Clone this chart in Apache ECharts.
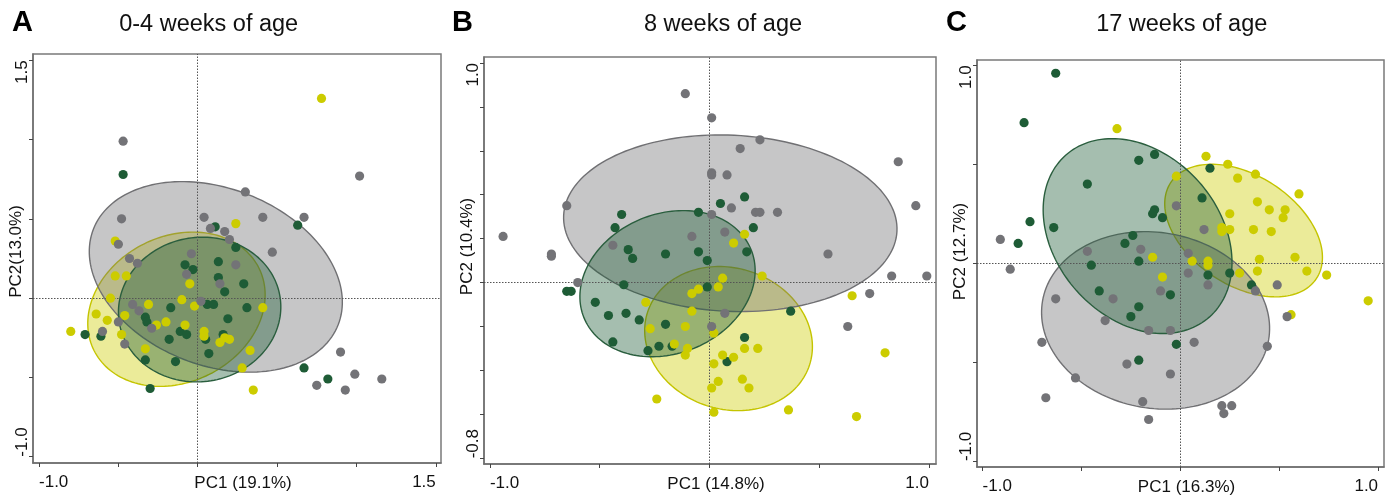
<!DOCTYPE html>
<html>
<head>
<meta charset="utf-8">
<script src="https://cdn.jsdelivr.net/npm/echarts@6/dist/echarts.min.js"></script>
<style>
html,body{margin:0;padding:0;background:#fff;}
#chart{width:1399px;height:501px;}
</style>
</head>
<body>
<div id="chart"></div>
<script>
// ---------- Panel A: 0-4 weeks ----------
const greenA = [[-0.47,0.78],[0.11,0.45],[0.63,0.46],[0.24,0.32],[0.13,0.23],[-0.08,0.21],[-0.03,0.18],[0.13,0.13],[0.29,0.09],[0.17,0.04],[0.06,-0.04],[0.10,-0.04],[-0.17,-0.06],[0.31,-0.06],[-0.33,-0.12],[-0.32,-0.15],[0.19,-0.13],[-0.71,-0.23],[-0.61,-0.24],[-0.11,-0.21],[-0.07,-0.23],[-0.18,-0.26],[0.05,-0.26],[0.16,-0.23],[0.07,-0.35],[-0.33,-0.39],[-0.14,-0.40],[0.67,-0.44],[0.82,-0.51],[-0.30,-0.57]];
const yellowA = [[0.78,1.26],[0.24,0.47],[-0.52,0.36],[-0.52,0.14],[-0.45,0.14],[-0.05,0.09],[-0.55,0.00],[-0.10,-0.01],[-0.31,-0.04],[-0.02,-0.05],[0.41,-0.06],[-0.64,-0.10],[-0.46,-0.11],[-0.57,-0.14],[-0.20,-0.15],[-0.26,-0.17],[-0.08,-0.17],[-0.80,-0.21],[-0.48,-0.23],[0.04,-0.21],[0.04,-0.24],[0.14,-0.28],[0.20,-0.26],[0.17,-0.25],[-0.33,-0.32],[0.33,-0.33],[0.28,-0.44],[0.35,-0.58]];
const grayA = [[-0.47,0.99],[1.02,0.77],[0.30,0.67],[-0.48,0.50],[0.04,0.51],[0.41,0.51],[0.67,0.51],[0.08,0.44],[0.17,0.42],[0.20,0.37],[-0.50,0.34],[0.47,0.29],[-0.04,0.28],[-0.43,0.25],[-0.38,0.22],[0.24,0.21],[-0.07,0.15],[0.14,0.09],[0.02,-0.02],[-0.41,-0.04],[-0.37,-0.08],[-0.50,-0.15],[-0.29,-0.19],[-0.60,-0.21],[-0.46,-0.29],[0.90,-0.34],[0.99,-0.48],[1.16,-0.51],[0.75,-0.55],[0.93,-0.58]];
// ellipse: [centerX, centerY, semiAxisA, semiAxisB, angleDeg]
const ellGrayA = [0.114, 0.134, 0.828, 0.558, -21.4];
const ellGreenA = [0.012, -0.072, 0.513, 0.455, 9];
const ellYellowA = [-0.134, -0.070, 0.581, 0.460, 26.6];
const ticksA = [-1.0, -0.5, 0, 0.5, 1.0, 1.5];
const labelsA = [-1.0, 1.5];

// ---------- Panel B: 8 weeks ----------
const grayB = [[-0.11,0.86],[0.01,0.75],[0.23,0.65],[0.14,0.61],[0.86,0.55],[0.01,0.50],[0.01,0.49],[0.08,0.49],[-0.65,0.35],[0.10,0.34],[0.94,0.35],[0.21,0.32],[0.23,0.32],[0.31,0.32],[0.01,0.31],[0.07,0.23],[-0.08,0.21],[-0.94,0.21],[-0.44,0.17],[-0.72,0.13],[-0.72,0.12],[0.54,0.13],[-0.60,0.00],[0.83,0.03],[0.99,0.03],[0.73,-0.05],[0.07,-0.14],[0.01,-0.20],[0.63,-0.20]];
const greenB = [[0.16,0.39],[0.05,0.36],[-0.40,0.31],[-0.05,0.32],[-0.43,0.25],[0.20,0.25],[-0.37,0.15],[-0.35,0.11],[-0.20,0.13],[-0.05,0.14],[0.17,0.14],[-0.01,0.10],[-0.39,-0.01],[-0.01,-0.02],[-0.65,-0.04],[-0.63,-0.04],[-0.52,-0.09],[-0.46,-0.15],[-0.38,-0.14],[-0.32,-0.17],[-0.20,-0.19],[0.37,-0.13],[-0.44,-0.27],[-0.23,-0.29],[-0.28,-0.31],[-0.17,-0.29],[0.16,-0.25],[0.08,-0.36]];
const yellowB = [[0.16,0.22],[0.11,0.18],[0.24,0.03],[0.06,0.02],[0.04,-0.02],[-0.05,-0.03],[-0.08,-0.05],[-0.29,-0.09],[0.65,-0.06],[-0.08,-0.13],[-0.27,-0.21],[-0.11,-0.20],[0.02,-0.23],[-0.16,-0.28],[-0.10,-0.30],[-0.11,-0.33],[0.16,-0.30],[0.22,-0.30],[0.06,-0.33],[0.11,-0.34],[0.02,-0.37],[0.80,-0.32],[0.15,-0.44],[0.04,-0.45],[0.18,-0.48],[0.01,-0.48],[-0.24,-0.53],[0.36,-0.58],[0.02,-0.59],[0.67,-0.61]];
const ellGrayB = [0.095, 0.270, 0.760, 0.401, -2.7];
const ellGreenB = [-0.191, -0.005, 0.411, 0.318, 22.1];
const ellYellowB = [0.087, -0.255, 0.388, 0.321, -18.1];
const ticksBx = [-1.0, -0.5, 0, 0.5, 1.0];
const ticksBy = [-0.8, -0.6, -0.4, -0.2, 0, 0.2, 0.4, 0.6, 0.8, 1.0];
const labelsBx = [-1.0, 1.0];
const labelsBy = [-0.8, 1.0];

// ---------- Panel C: 17 weeks ----------
const greenC = [[-0.63,0.96],[-0.79,0.71],[-0.13,0.55],[-0.21,0.52],[0.15,0.48],[-0.47,0.40],[0.11,0.33],[-0.13,0.27],[-0.14,0.25],[-0.09,0.23],[-0.76,0.21],[-0.64,0.18],[-0.24,0.14],[-0.28,0.10],[-0.82,0.10],[-0.21,0.01],[-0.45,-0.01],[0.14,-0.06],[0.25,-0.05],[0.36,-0.11],[-0.41,-0.14],[-0.05,-0.16],[-0.21,-0.22],[-0.25,-0.27],[-0.02,-0.41],[-0.21,-0.49]];
const grayC = [[-0.02,0.29],[0.12,0.17],[-0.91,0.12],[-0.20,0.07],[-0.47,0.06],[0.04,0.05],[-0.86,-0.03],[0.04,-0.05],[0.14,-0.11],[0.49,-0.11],[0.38,-0.14],[-0.10,-0.14],[-0.63,-0.18],[-0.34,-0.18],[0.54,-0.27],[-0.38,-0.29],[-0.16,-0.34],[-0.05,-0.34],[-0.70,-0.40],[0.07,-0.40],[0.44,-0.42],[-0.27,-0.51],[-0.05,-0.56],[-0.53,-0.58],[-0.68,-0.68],[-0.19,-0.70],[0.21,-0.72],[0.26,-0.72],[0.22,-0.76],[-0.16,-0.79]];
const yellowC = [[-0.32,0.68],[0.13,0.54],[0.24,0.50],[0.38,0.45],[0.29,0.43],[-0.02,0.44],[0.60,0.35],[0.39,0.31],[0.45,0.27],[0.53,0.27],[0.25,0.25],[0.52,0.23],[0.21,0.18],[0.25,0.17],[0.21,0.16],[0.37,0.17],[0.46,0.16],[-0.14,0.03],[0.40,0.02],[0.58,0.03],[0.06,0.01],[0.14,0.01],[0.14,-0.01],[0.39,-0.04],[0.64,-0.04],[0.74,-0.06],[0.30,-0.05],[-0.09,-0.07],[0.56,-0.26],[0.95,-0.19]];
const ellGrayC = [-0.125, -0.289, 0.580, 0.444, -9.8];
const ellGreenC = [-0.216, 0.137, 0.547, 0.414, -48.3];
const ellYellowC = [0.320, 0.165, 0.441, 0.277, -33.3];
const ticksC = [-1.0, -0.5, 0, 0.5, 1.0];
const labelsC = [-1.0, 1.0];

const panelLetters = ['A', 'B', 'C'];
const panelTitles = ['0-4 weeks of age', '8 weeks of age', '17 weeks of age'];
const xNames = ['PC1 (19.1%)', 'PC1 (14.8%)', 'PC1 (16.3%)'];
const yNames = ['PC2(13.0%)', 'PC2 (10.4%)', 'PC2 (12.7%)'];

// ---------- styling ----------
const FONT = "'Liberation Sans', Arial, Helvetica, sans-serif";
const COL = {
  green: '#1e5c36', yellow: '#cccc00', gray: '#737377',
  greenFill: 'rgba(30,92,54,0.4)', yellowFill: 'rgba(204,204,0,0.4)', grayFill: 'rgba(112,112,116,0.4)',
  greenStroke: '#2a5e3e', yellowStroke: '#c4c400', grayStroke: '#707073'
};

const grids = [
  {left: 33, top: 54, width: 408, height: 409},
  {left: 484, top: 57, width: 452, height: 407},
  {left: 977, top: 60, width: 407, height: 407}
];
const xRanges = [[-1.038, 1.533], [-1.027, 1.032], [-1.028, 1.03]];
const yRanges = [[-1.04, 1.54], [-0.826, 1.027], [-1.03, 1.027]];
const xTicks = [ticksA, ticksBx, ticksC];
const yTicks = [ticksA, ticksBy, ticksC];
const xLabels = [labelsA, labelsBx, labelsC];
const yLabels = [labelsA, labelsBy, labelsC];
const yNameShift = [7, 14, 12];

function xAxisCfg(i) {
  return {
    type: 'value', gridIndex: i, min: xRanges[i][0], max: xRanges[i][1],
    name: xNames[i], nameLocation: 'middle', nameGap: 12, nameMoveOverlap: false,
    nameTextStyle: {fontSize: 17, color: '#111', fontFamily: FONT, padding: [0, 0, 0, 12]},
    axisLine: {show: true, onZero: false, lineStyle: {color: '#6f6f6f', width: 1.5}},
    axisTick: {show: true, customValues: xTicks[i], length: 4, lineStyle: {color: '#444', width: 1}},
    axisLabel: {show: true, customValues: xLabels[i], formatter: v => Number(v).toFixed(1),
      fontSize: 17, color: '#111', fontFamily: FONT, margin: 11, alignMinLabel: 'left', alignMaxLabel: 'right'},
    splitLine: {show: false}
  };
}
function yAxisCfg(i) {
  return {
    type: 'value', gridIndex: i, min: yRanges[i][0], max: yRanges[i][1],
    name: yNames[i], nameLocation: 'middle', nameGap: 8, nameMoveOverlap: false,
    nameTextStyle: {fontSize: 17, color: '#111', fontFamily: FONT, padding: [0, 0, 0, 2 * yNameShift[i]]},
    axisLine: {show: true, onZero: false, lineStyle: {color: '#6f6f6f', width: 1.5}},
    axisTick: {show: true, customValues: yTicks[i], length: 4, lineStyle: {color: '#444', width: 1}},
    axisLabel: {show: true, customValues: yLabels[i], formatter: v => Number(v).toFixed(1), rotate: 90,
      fontSize: 17, color: '#111', fontFamily: FONT, margin: 2, alignMinLabel: 'left', alignMaxLabel: 'right'},
    splitLine: {show: false}
  };
}

function ellipseSeries(i, params, fill, stroke) {
  return {
    type: 'custom', xAxisIndex: i, yAxisIndex: i, z: 1, silent: true, clip: true,
    data: [params], encode: {x: 0, y: 1},
    renderItem: function (p, api) {
      const cx = api.value(0), cy = api.value(1), a = api.value(2), b = api.value(3);
      const ang = api.value(4) * Math.PI / 180;
      const pts = [];
      const N = 160;
      for (let k = 0; k < N; k++) {
        const t = k / N * 2 * Math.PI;
        const ex = a * Math.cos(t), ey = b * Math.sin(t);
        pts.push(api.coord([cx + ex * Math.cos(ang) - ey * Math.sin(ang), cy + ex * Math.sin(ang) + ey * Math.cos(ang)]));
      }
      return {type: 'polygon', shape: {points: pts}, style: {fill: fill, stroke: stroke, lineWidth: 1.4}};
    }
  };
}
function scatterSeries(i, data, color, withRef) {
  const s = {
    type: 'scatter', xAxisIndex: i, yAxisIndex: i, data: data, symbolSize: 9.2, z: 3,
    itemStyle: {color: color, opacity: 1}, silent: true
  };
  if (withRef) {
    s.markLine = {
      silent: true, symbol: ['none', 'none'], z: 2, animation: false,
      label: {show: false},
      lineStyle: {type: [1.5, 1.5], color: '#555', width: 1},
      data: [{xAxis: 0}, {yAxis: 0}]
    };
  }
  return s;
}

const ellipses = [
  [ellYellowA, ellGrayA, ellGreenA],
  [ellYellowB, ellGrayB, ellGreenB],
  [ellYellowC, ellGrayC, ellGreenC]
];
const pts = [
  [greenA, yellowA, grayA],
  [greenB, yellowB, grayB],
  [greenC, yellowC, grayC]
];

const series = [];
for (let i = 0; i < 3; i++) {
  series.push(ellipseSeries(i, ellipses[i][0], COL.yellowFill, COL.yellowStroke));
  series.push(ellipseSeries(i, ellipses[i][1], COL.grayFill, COL.grayStroke));
  series.push(ellipseSeries(i, ellipses[i][2], COL.greenFill, COL.greenStroke));
  series.push(scatterSeries(i, pts[i][0], COL.green, true));
  series.push(scatterSeries(i, pts[i][1], COL.yellow, false));
  series.push(scatterSeries(i, pts[i][2], COL.gray, false));
}

const letterLeft = [12, 452, 946];
const titleCenter = [208.7, 723, 1181.7];
const titles = [];
for (let i = 0; i < 3; i++) {
  titles.push({text: panelLetters[i], left: letterLeft[i], top: 8, padding: 0,
    textStyle: {fontSize: 29, fontWeight: 'bold', color: '#000', fontFamily: FONT}});
  titles.push({text: panelTitles[i], left: titleCenter[i], top: 13, padding: 0, textAlign: 'center',
    textStyle: {fontSize: 23.5, fontWeight: 'normal', color: '#111', fontFamily: FONT}});
}

const chart = echarts.init(document.getElementById('chart'), null, {renderer: 'canvas'});
chart.setOption({
  animation: false,
  backgroundColor: '#fff',
  title: titles,
  grid: grids.map(g => Object.assign({show: true, borderColor: '#7a7a7a', borderWidth: 1.5, containLabel: false, outerBoundsMode: 'none', backgroundColor: 'transparent'}, g)),
  xAxis: [0, 1, 2].map(xAxisCfg),
  yAxis: [0, 1, 2].map(yAxisCfg),
  series: series
});
</script>
</body>
</html>
